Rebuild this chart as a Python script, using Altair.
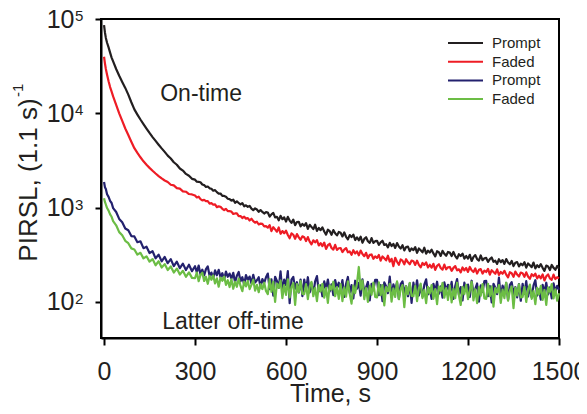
import altair as alt
import pandas as pd

# ---------------- data ----------------
TIME_S = ([0, 3, 6, 10, 15, 20, 25, 30, 40, 50, 60, 70, 80, 90]
          + list(range(100, 300, 10)) + list(range(300, 1500, 6)) + [1500])

ON_PROMPT = [
    86000, 72000, 63000, 56000, 50000, 44000, 39000, 35500, 29500, 25000, 21500, 18600, 15800, 13100,
    11000, 9700, 8600, 7700, 6900, 6200, 5600, 5100, 4650, 4250, 3900, 3560, 3320, 3030, 2850, 2600, 2470, 2280, 2180, 2020,
    1980, 1884, 1875, 1857, 1759, 1734, 1658, 1676, 1603, 1588, 1511, 1534, 1461, 1411, 1412, 1330, 1331, 1305, 1242, 1230,
    1188, 1215, 1125, 1164, 1121, 1081, 1117, 1034, 1058, 1021, 1043, 976, 941, 982, 956, 903, 943, 900, 867, 896,
    889, 802, 850, 880, 787, 800, 734, 818, 754, 789, 712, 798, 729, 690, 746, 651, 705, 709, 633, 671,
    642, 686, 595, 657, 625, 592, 659, 567, 608, 577, 617, 558, 517, 583, 565, 515, 579, 535, 508, 553,
    541, 495, 546, 491, 461, 512, 487, 517, 454, 483, 451, 493, 424, 466, 485, 440, 423, 475, 423, 441,
    445, 403, 429, 446, 402, 410, 379, 424, 392, 413, 374, 421, 387, 369, 400, 352, 383, 386, 346, 369,
    355, 382, 332, 369, 353, 336, 376, 325, 350, 334, 359, 327, 304, 345, 337, 308, 349, 324, 309, 339,
    334, 307, 339, 306, 289, 321, 307, 326, 288, 307, 288, 316, 272, 300, 314, 285, 275, 311, 277, 290,
    293, 266, 285, 296, 267, 274, 253, 284, 264, 278, 253, 285, 262, 251, 272, 240, 261, 265, 238, 255,
    245, 264, 231, 256, 245, 234, 262, 227, 245, 234, 252, 230, 214, 243, 238, 218, 247, 230, 219, 241,
    225,
]
ON_FADED = [
    39800, 33900, 29500, 25700, 21900, 19000, 17000, 15100, 12300, 10000, 8300, 6900, 5900, 5000,
    4270, 3800, 3420, 3100, 2850, 2640, 2460, 2300, 2160, 2040, 1940, 1870, 1750, 1720, 1610, 1590, 1490, 1475, 1395, 1380,
    1346, 1281, 1307, 1232, 1196, 1208, 1173, 1173, 1105, 1117, 1073, 1084, 1011, 1032, 1022, 972, 944, 972, 917, 917,
    908, 857, 868, 869, 812, 815, 777, 802, 765, 774, 731, 762, 720, 693, 709, 663, 678, 672, 634, 636,
    613, 653, 564, 621, 588, 556, 617, 528, 565, 535, 569, 513, 474, 535, 516, 468, 525, 484, 457, 497,
    485, 442, 487, 436, 408, 451, 428, 453, 397, 420, 391, 426, 365, 400, 414, 374, 359, 403, 357, 371,
    373, 338, 359, 373, 336, 343, 316, 354, 327, 344, 312, 351, 322, 306, 332, 291, 316, 319, 287, 305,
    293, 315, 274, 304, 290, 276, 309, 267, 287, 240, 294, 267, 248, 282, 274, 251, 284, 263, 251, 275,
    270, 247, 274, 247, 233, 259, 247, 263, 232, 248, 231, 254, 219, 242, 251, 229, 220, 249, 222, 233,
    235, 214, 230, 240, 216, 222, 206, 232, 216, 229, 208, 235, 217, 208, 227, 200, 219, 223, 200, 215,
    208, 224, 195, 217, 208, 199, 222, 193, 208, 199, 214, 195, 182, 207, 202, 185, 210, 195, 186, 205,
    202, 185, 206, 186, 176, 197, 188, 200, 178, 190, 178, 196, 169, 187, 196, 178, 172, 195, 175, 183,
    178,
]
OFF_PROMPT = [
    1870, 1650, 1580, 1390, 1300, 1180, 1120, 990, 900, 760, 700, 600, 575, 500,
    495, 430, 440, 372, 385, 330, 345, 290, 318, 270, 300, 258, 285, 240, 268, 228, 255, 218, 248, 212,
    239, 206, 243, 197, 220, 191, 223, 238, 190, 205, 180, 216, 192, 219, 183, 202, 173, 210, 185, 200,
    177, 204, 162, 190, 208, 166, 183, 153, 193, 171, 186, 157, 194, 161, 170, 183, 143, 175, 159, 183,
    200, 137, 174, 117, 185, 167, 141, 211, 127, 173, 150, 212, 97, 173, 184, 138, 162, 126, 173, 115,
    173, 135, 183, 126, 158, 123, 165, 188, 129, 150, 115, 165, 137, 173, 129, 154, 118, 171, 140, 160,
    132, 171, 113, 155, 184, 125, 151, 109, 168, 138, 159, 117, 174, 127, 143, 163, 104, 156, 133, 172,
    172, 118, 151, 102, 161, 147, 124, 186, 113, 154, 133, 162, 108, 155, 165, 125, 147, 115, 158, 98,
    160, 125, 170, 117, 146, 114, 153, 174, 120, 139, 108, 156, 129, 164, 122, 146, 111, 161, 132, 152,
    126, 163, 108, 148, 175, 119, 144, 104, 160, 131, 153, 113, 168, 123, 138, 157, 101, 150, 128, 166,
    167, 115, 147, 99, 156, 142, 121, 181, 110, 149, 130, 159, 105, 152, 162, 122, 144, 112, 155, 103,
    156, 122, 166, 114, 143, 112, 150, 170, 117, 136, 106, 152, 126, 160, 120, 143, 109, 158, 129, 148,
    135,
]
OFF_FADED = [
    1260, 1150, 1080, 990, 930, 850, 800, 720, 650, 550, 510, 445, 420, 370,
    360, 318, 332, 290, 305, 268, 285, 245, 270, 232, 252, 218, 238, 205, 226, 195, 214, 185, 206, 180,
    179, 205, 166, 194, 205, 167, 185, 156, 189, 172, 191, 157, 178, 145, 181, 168, 186, 152, 170, 144,
    174, 138, 164, 145, 177, 148, 130, 164, 146, 167, 137, 152, 172, 132, 152, 127, 155, 137, 160, 131,
    121, 175, 128, 164, 100, 157, 141, 169, 110, 151, 119, 174, 112, 144, 159, 93, 155, 127, 167, 122,
    121, 155, 107, 146, 163, 115, 141, 102, 151, 129, 156, 111, 141, 98, 150, 135, 164, 115, 144, 108,
    155, 102, 143, 114, 165, 122, 96, 149, 124, 157, 235, 136, 169, 107, 140, 100, 148, 119, 160, 113,
    112, 161, 118, 151, 92, 144, 130, 156, 101, 139, 113, 165, 107, 137, 151, 88, 147, 121, 159, 116,
    115, 148, 102, 140, 156, 110, 134, 97, 145, 123, 151, 108, 137, 95, 146, 131, 159, 111, 140, 105,
    150, 99, 138, 110, 160, 118, 93, 145, 121, 152, 107, 132, 164, 104, 136, 97, 144, 116, 155, 109,
    108, 156, 115, 146, 89, 140, 126, 151, 98, 135, 110, 160, 103, 132, 146, 86, 142, 117, 154, 112,
    113, 145, 100, 136, 153, 108, 131, 95, 141, 120, 148, 105, 134, 93, 143, 128, 155, 109, 136, 103,
    124,
]

SERIES = ["On-time prompt", "On-time faded", "Off-time prompt", "Off-time faded"]
LEGEND_LABELS = ["Prompt", "Faded", "Prompt", "Faded"]
COLORS = ["#231f20", "#ee1c25", "#23216e", "#6cbd45"]
X_TICKS = [0, 300, 600, 900, 1200, 1500]
Y_TICKS = [100, 1000, 10000, 100000]
Y_EXPONENTS = ["2", "3", "4", "5"]
ANNOT_T = [320, 425]
ANNOT_V = [16000, 61]
ANNOT_TEXT = ["On-time", "Latter off-time"]

FONT = "Liberation Sans"
TXT = "#231f20"

for arr in (ON_PROMPT, ON_FADED, OFF_PROMPT, OFF_FADED):
    assert len(arr) == len(TIME_S), (len(arr), len(TIME_S))

rows = []
for name, vals in zip(SERIES, [ON_PROMPT, ON_FADED, OFF_PROMPT, OFF_FADED]):
    for t, v in zip(TIME_S, vals):
        rows.append({"t": t, "v": v, "series": name})
df = pd.DataFrame(rows)

xscale = alt.Scale(domain=[-10, 1500], nice=False, zero=False)
yscale = alt.Scale(type="log", domain=[41.5, 100000], nice=False)
cscale = alt.Scale(domain=SERIES, range=COLORS)

lines = alt.Chart(df).mark_line(strokeWidth=2.2, strokeJoin="round").encode(
    x=alt.X("t:Q", scale=xscale,
            axis=alt.Axis(values=X_TICKS, format="d", title="Time, s", grid=False,
                          tickSize=7, tickWidth=2, tickColor="black",
                          domainColor="black", domainWidth=2,
                          labelFontSize=25, labelFont=FONT, labelColor=TXT,
                          labelPadding=14, labelFlush=False, labelOverlap=False,
                          titleFontSize=25, titleFont=FONT, titleColor=TXT,
                          titleFontWeight="normal", titleBaseline="alphabetic",
                          titleY=63)),
    y=alt.Y("v:Q", scale=yscale,
            axis=alt.Axis(values=Y_TICKS, labelExpr="'10'", title=None, grid=False,
                          tickSize=6, tickWidth=2, tickColor="black",
                          domainColor="black", domainWidth=2,
                          labelFontSize=25, labelFont=FONT, labelColor=TXT,
                          labelPadding=21, labelAlign="right", labelBaseline="middle",
                          labelOverlap=False)),
    color=alt.Color("series:N", scale=cscale, legend=None),
    detail="series:N",
)

exp_df = pd.DataFrame({"v": Y_TICKS, "e": Y_EXPONENTS})
exps = alt.Chart(exp_df).mark_text(align="left", baseline="alphabetic", fontSize=15,
                                   font=FONT, color=TXT, dy=2).encode(
    x=alt.value(-26),
    y=alt.Y("v:Q", scale=yscale),
    text="e:N",
)

ytitle_df = pd.DataFrame({"label": ["PIRSL, (1.1 s)"], "sup": ["-1"]})
ytitle = alt.Chart(ytitle_df).mark_text(angle=270, align="center", baseline="alphabetic",
                                        fontSize=26, font=FONT, color=TXT).encode(
    x=alt.value(-64), y=alt.value(161), text="label:N")
ysup = alt.Chart(ytitle_df).mark_text(angle=270, align="left", baseline="alphabetic",
                                      fontSize=15, font=FONT, color=TXT).encode(
    x=alt.value(-78), y=alt.value(78), text="sup:N")

ann_df = pd.DataFrame({"t": ANNOT_T, "v": ANNOT_V, "label": ANNOT_TEXT})
ann = alt.Chart(ann_df).mark_text(align="center", baseline="middle", fontSize=23,
                                  font=FONT, color=TXT).encode(
    x=alt.X("t:Q", scale=xscale),
    y=alt.Y("v:Q", scale=yscale),
    text="label:N",
)

leg_df = pd.DataFrame({"label": LEGEND_LABELS, "series": SERIES, "row": [0, 1, 2, 3]})
leg_base = alt.Chart(leg_df).transform_calculate(ly="24 + datum.row * 18.7")
leg_rules = leg_base.mark_rule(strokeWidth=2).encode(
    x=alt.value(347), x2=alt.value(382),
    y=alt.Y("ly:Q", scale=None),
    color=alt.Color("series:N", scale=cscale, legend=None),
)
leg_text = leg_base.mark_text(align="left", baseline="middle", fontSize=15,
                              font=FONT, color=TXT).encode(
    x=alt.value(391),
    y=alt.Y("ly:Q", scale=None),
    text="label:N",
)

chart = alt.layer(lines, exps, ytitle, ysup, ann, leg_rules, leg_text).properties(
    width=458, height=319,
    autosize=alt.AutoSizeParams(type="none"),
    padding={"left": 93, "top": 11, "right": 20, "bottom": 68},
    background="white",
).configure_view(stroke="black", strokeWidth=2)

chart.save("out.html", embed_options={"renderer": "svg", "actions": False})
